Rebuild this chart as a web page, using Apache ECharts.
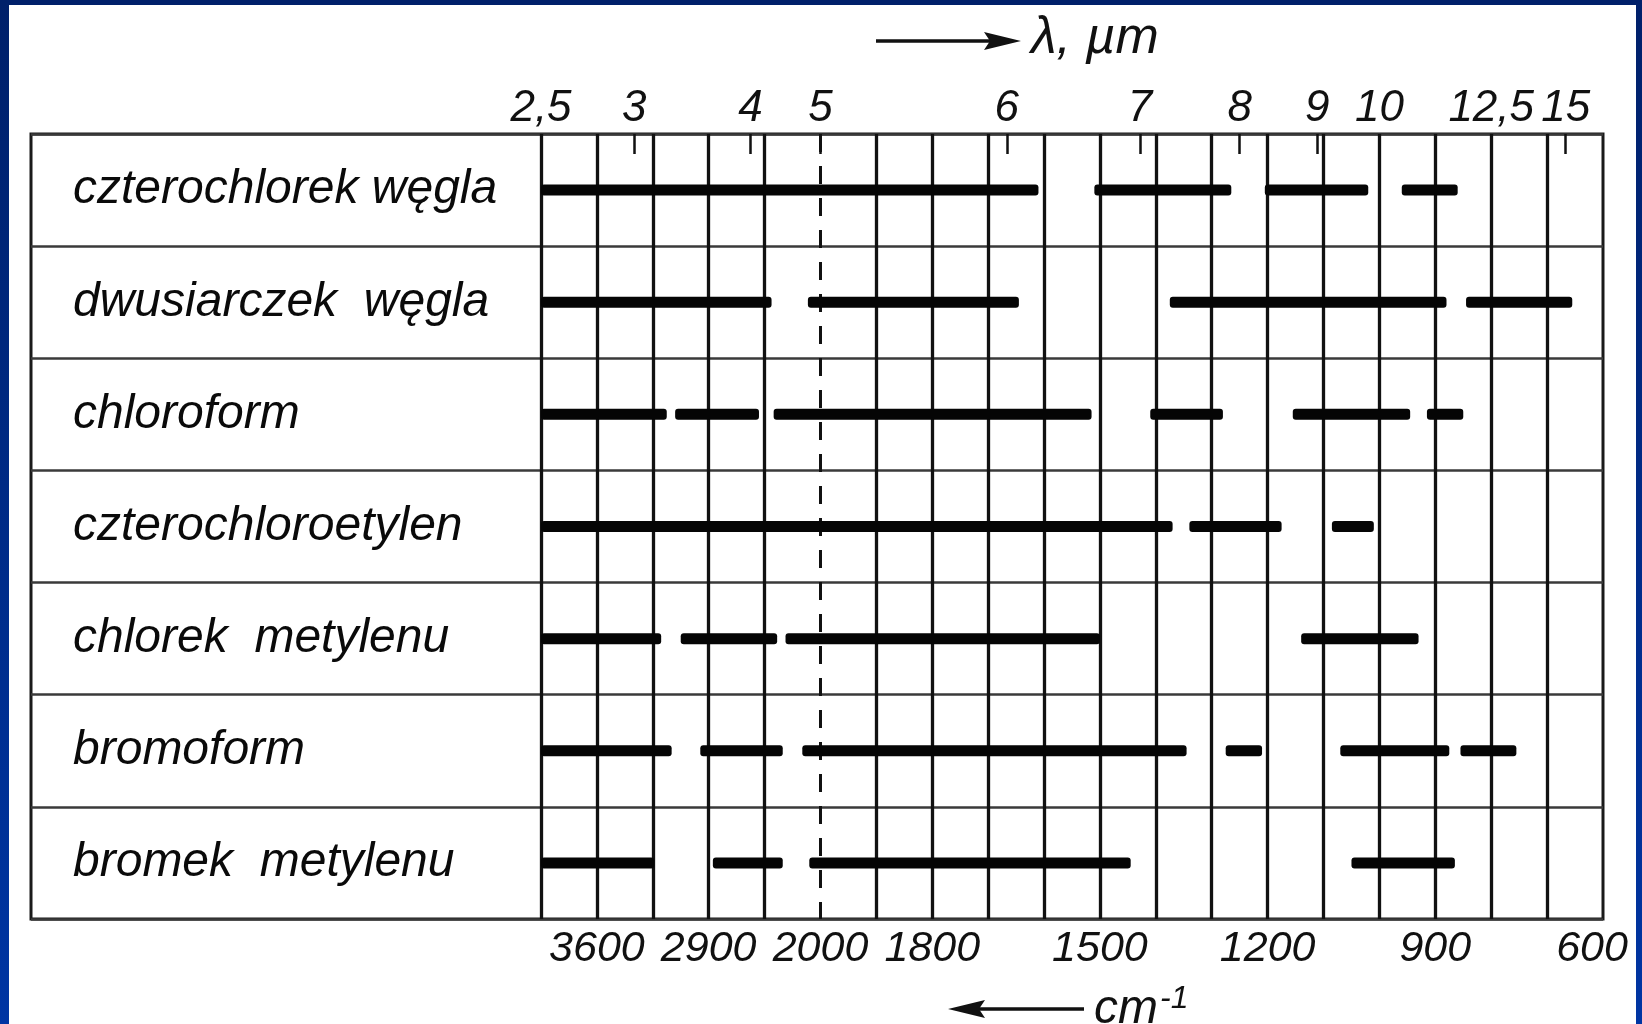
<!DOCTYPE html>
<html>
<head>
<meta charset="utf-8">
<title>Zakresy przepuszczalności rozpuszczalników w podczerwieni</title>
<script src="https://cdn.jsdelivr.net/npm/echarts@6/dist/echarts.min.js"></script>
<style>
  html, body { margin: 0; padding: 0; background: #ffffff; }
  #chart { width: 1642px; height: 1024px; }
</style>
</head>
<body>
<div id="chart"></div>
<script>
// Solvents (rows, top to bottom); wide word spacing as in the hand lettering
const solventNames = [
  'czterochlorek węgla',
  'dwusiarczek  węgla',
  'chloroform',
  'czterochloroetylen',
  'chlorek  metylenu',
  'bromoform',
  'bromek  metylenu'
];

// Transparent ranges of each solvent, [from, to] in cm^-1
const czterochlorekWegla = [[4000, 1610], [1510, 1265], [1205, 1020], [960, 860]];
const dwusiarczekWegla   = [[4000, 2350], [2090, 1645], [1375, 880], [845, 655]];
const chloroformRanges   = [[4000, 3100], [3040, 2440], [2335, 1515], [1410, 1280], [1155, 945], [915, 850]];
const czterochloroetylen = [[4000, 1370], [1340, 1175], [1085, 1010]];
const chlorekMetylenu    = [[4000, 3140], [3000, 2310], [2250, 1500], [1140, 930]];
const bromoformRanges    = [[4000, 3065], [2860, 2270], [2130, 1345], [1275, 1210], [1070, 875], [855, 755]];
const bromekMetylenu     = [[4000, 3190], [2770, 2270], [2080, 1445], [1050, 865]];

// Vertical grid lines, cm^-1 (2000 is drawn dashed)
const gridWavenumbers = [4000, 3600, 3200, 2800, 2400, 2000, 1900, 1800, 1700, 1600,
                         1500, 1400, 1300, 1200, 1100, 1000, 900, 800, 700];

// Upper scale: wavelength, µm
const wavelengthTicks  = [2.5, 3, 4, 5, 6, 7, 8, 9, 10, 12.5, 15];
const wavelengthLabels = ['2,5', '3', '4', '5', '6', '7', '8', '9', '10', '12,5', '15'];

// Lower scale: wavenumber, cm^-1
const cmTickValues = [3600, 2800, 2000, 1800, 1500, 1200, 900, 600];
const cmTickLabels = ['3600', '2900', '2000', '1800', '1500', '1200', '900', '600'];

const rangesByRow = [czterochlorekWegla, dwusiarczekWegla, chloroformRanges,
                     czterochloroetylen, chlorekMetylenu, bromoformRanges, bromekMetylenu];

// The chart paper uses two linear sections: 400 cm^-1 per cell above 2000,
// 100 cm^-1 per cell below it. Axis units are grid cells from 4000 cm^-1.
function cellPos(w) {
  return w >= 2000 ? (4000 - w) / 400 : 5 + (2000 - w) / 100;
}

const AXIS_MAX = 19;          // 600 cm^-1
const AXIS_MIN = -9.124;      // leaves room for the name column inside the frame

const barData = [];
rangesByRow.forEach(function (ranges, row) {
  ranges.forEach(function (r) {
    barData.push([cellPos(r[0]), cellPos(r[1]), row]);
  });
});

const wlPositions = wavelengthTicks.map(function (l) { return cellPos(10000 / l); });
const cmPositions = cmTickValues.map(cellPos);

function labelFor(positions, labels, v) {
  let best = 0, bd = Infinity;
  positions.forEach(function (p, i) {
    const d = Math.abs(p - v);
    if (d < bd) { bd = d; best = i; }
  });
  return labels[best];
}

const numberFont = "'Liberation Sans', Arial, sans-serif";
const textFont = "'Liberation Sans', Arial, sans-serif";

const chart = echarts.init(document.getElementById('chart'), null, { renderer: 'canvas' });

chart.setOption({
  animation: false,
  backgroundColor: '#ffffff',
  grid: {
    left: 31, right: 39, top: 134, bottom: 105,
    show: true, borderColor: '#1a1a1a', borderWidth: 3, backgroundColor: 'transparent'
  },
  xAxis: [
    {
      type: 'value', position: 'bottom', min: AXIS_MIN, max: AXIS_MAX,
      axisLine: { show: false }, axisTick: { show: false }, splitLine: { show: false },
      axisLabel: {
        customValues: cmPositions,
        hideOverlap: false,
        showMinLabel: true, showMaxLabel: true,
        margin: 9,
        color: '#111',
        fontFamily: numberFont, fontStyle: 'italic', fontSize: 43,
        formatter: function (v) {
          const t = labelFor(cmPositions, cmTickLabels, v);
          return t === '600' ? '{edge|' + t + '}' : t;
        },
        rich: {
          edge: { fontFamily: numberFont, fontStyle: 'italic', fontSize: 43, color: '#111', padding: [0, 22, 0, 0] }
        }
      }
    },
    {
      type: 'value', position: 'top', min: AXIS_MIN, max: AXIS_MAX,
      axisLine: { show: false }, splitLine: { show: false },
      axisTick: {
        show: true, inside: true, length: 20, customValues: wlPositions,
        lineStyle: { color: '#111', width: 2.5 }
      },
      axisLabel: {
        customValues: wlPositions,
        hideOverlap: false,
        showMinLabel: true, showMaxLabel: true,
        margin: 3,
        color: '#111',
        fontFamily: numberFont, fontStyle: 'italic', fontSize: 44,
        formatter: function (v) { return labelFor(wlPositions, wavelengthLabels, v); }
      }
    }
  ],
  yAxis: {
    type: 'category', inverse: true, data: solventNames,
    axisLine: { show: false }, axisTick: { show: false },
    splitLine: { show: true, lineStyle: { color: '#3a3a3a', width: 2.5 } },
    axisLabel: {
      inside: true, margin: 42, color: '#0a0a0a',
      fontFamily: textFont, fontStyle: 'italic', fontSize: 48,
      padding: [0, 0, 2, 0]
    }
  },
  series: [
    {
      // vertical grid of the chart paper
      type: 'custom', name: 'siatka', silent: true,
      xAxisIndex: 0, yAxisIndex: 0,
      data: [],
      renderItem: function () { return null; },
      markLine: {
        silent: true, symbol: 'none', animation: false,
        label: { show: false },
        data: gridWavenumbers.map(function (w) {
          return {
            xAxis: cellPos(w),
            lineStyle: w === 2000
              ? { color: '#111', width: 3, type: [18, 14] }
              : { color: '#111', width: 3.3, type: 'solid' }
          };
        })
      }
    },
    {
      // transparent ranges
      type: 'custom', name: 'zakresy', silent: true,
      xAxisIndex: 0, yAxisIndex: 0,
      encode: { x: [0, 1], y: 2 },
      data: barData,
      renderItem: function (params, api) {
        const a = api.coord([api.value(0), api.value(2)]);
        const b = api.coord([api.value(1), api.value(2)]);
        const h = 11;
        return {
          type: 'rect',
          shape: { x: a[0], y: a[1] - h / 2, width: b[0] - a[0], height: h, r: 3 },
          style: { fill: '#050505' }
        };
      },
      z: 5
    }
  ],
  graphic: [
    // frame of the page
    { type: 'rect', left: 0, top: 0, shape: { width: 1642, height: 5 }, style: { fill: '#00206a' }, silent: true },
    { type: 'rect', left: 0, top: 0, shape: { width: 9, height: 1024 },
      style: { fill: new echarts.graphic.LinearGradient(0, 0, 0, 1, [
        { offset: 0, color: '#00206a' }, { offset: 1, color: '#0035a3' }]) }, silent: true },
    { type: 'rect', right: 0, top: 0, shape: { width: 6, height: 1024 },
      style: { fill: new echarts.graphic.LinearGradient(0, 0, 0, 1, [
        { offset: 0, color: '#00206a' }, { offset: 1, color: '#0035a3' }]) }, silent: true },
    // wavelength direction arrow and unit
    { type: 'line', shape: { x1: 876, y1: 41, x2: 992, y2: 41 }, style: { stroke: '#111', lineWidth: 3.5 }, silent: true },
    { type: 'polygon', shape: { points: [[984, 32], [1021, 41], [984, 50], [990, 41]] }, style: { fill: '#111' }, silent: true },
    { type: 'text', x: 1031, y: 39, silent: true,
      style: { text: 'λ, µm', fill: '#111', font: 'italic 52px ' + textFont, verticalAlign: 'middle' } },
    // wavenumber direction arrow and unit
    { type: 'line', shape: { x1: 978, y1: 1009, x2: 1084, y2: 1009 }, style: { stroke: '#111', lineWidth: 3.5 }, silent: true },
    { type: 'polygon', shape: { points: [[985, 1000], [948, 1009], [985, 1018], [979, 1009]] }, style: { fill: '#111' }, silent: true },
    { type: 'text', x: 1094, y: 1010, silent: true,
      style: {
        text: '{m|cm}{s|-1}', verticalAlign: 'middle',
        rich: {
          m: { font: 'italic 48px ' + textFont, fill: '#111' },
          s: { font: 'italic 32px ' + textFont, fill: '#111', verticalAlign: 'top', padding: [0, 0, 22, 2] }
        }
      } }
  ]
});
</script>
</body>
</html>
